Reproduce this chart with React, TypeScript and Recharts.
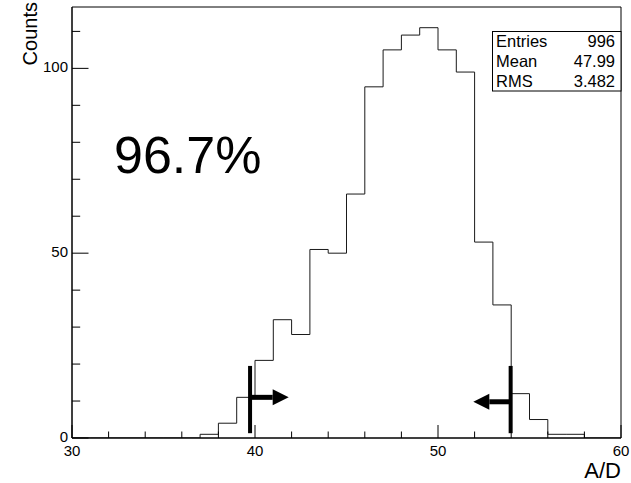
import React from 'react';
import {
  ComposedChart,
  Line,
  XAxis,
  YAxis,
  ReferenceLine,
  ReferenceArea,
} from 'recharts';

// histogram bins (low edge) and counts
const binLowEdges = [30, 31, 32, 33, 34, 35, 36, 37, 38, 39, 40, 41, 42, 43, 44, 45, 46, 47, 48, 49, 50, 51, 52, 53, 54, 55, 56, 57, 58, 59];
const binCounts = [0, 0, 0, 0, 0, 0, 0, 1, 4, 11, 21, 32, 28, 51, 50, 66, 95, 105, 109, 111, 105, 99, 53, 36, 12, 5, 1, 1, 0, 0];
const xMin = 30;
const xMax = 60;
const yMax = 116.6;

const xTicks = [30, 32, 34, 36, 38, 40, 42, 44, 46, 48, 50, 52, 54, 56, 58, 60];
const xMajor = [30, 40, 50, 60];
const yTicks = [0, 10, 20, 30, 40, 50, 60, 70, 80, 90, 100, 110];
const yMajor = [0, 50, 100];

// cut markers: position, bar extent, arrow height and tip
const cutPositions = [39.73, 53.97];
const cutBarTop = 19.5;
const cutBarBottom = 1.3;
const arrowHeights = [11.0, 9.8];
const arrowTips = [41.84, 51.93];

const statLabels = ['Entries', 'Mean', 'RMS'];
const statValues = ['996', '47.99', '3.482'];
const efficiencyText = '96.7%';

const FONT = '"Liberation Sans", Arial, Helvetica, sans-serif';

const histData = [
  ...binLowEdges.map((x, i) => ({ x, count: binCounts[i] })),
  { x: xMax, count: 0 },
];

const XTick = (props: any) => {
  const { x, y, payload } = props;
  const major = xMajor.includes(payload.value);
  return (
    <g>
      <line x1={x} y1={y} x2={x} y2={y - (major ? 13 : 6.5)} stroke="#000" strokeWidth={1} />
      {major && (
        <text x={x} y={y + 18} textAnchor="middle" fontSize={15} fontFamily={FONT} fill="#000">
          {payload.value}
        </text>
      )}
    </g>
  );
};

const YTick = (props: any) => {
  const { x, y, payload } = props;
  const major = yMajor.includes(payload.value);
  return (
    <g>
      <line x1={x} y1={y} x2={x + (major ? 16.5 : 8.2)} y2={y} stroke="#000" strokeWidth={1} />
      {major && (
        <text x={x - 4} y={y + 4} textAnchor="end" fontSize={15} fontFamily={FONT} fill="#000">
          {payload.value}
        </text>
      )}
    </g>
  );
};

const Arrow = (props: any) => {
  const { x1, y1, x2 } = props;
  const dir = x2 > x1 ? 1 : -1;
  const head = 16;
  return (
    <g>
      <line x1={x1} y1={y1} x2={x2 - dir * head} y2={y1} stroke="#000" strokeWidth={5} />
      <polygon
        points={`${x2},${y1} ${x2 - dir * head},${y1 - 8} ${x2 - dir * head},${y1 + 8}`}
        fill="#000"
      />
    </g>
  );
};

export default function App() {
  return (
    <div style={{ position: 'absolute', left: 0, top: 0, width: 631, height: 483, background: '#fff' }}>
      <ComposedChart
        width={631}
        height={483}
        data={histData}
        margin={{ top: 7, right: 10, bottom: 0, left: 0 }}
      >
        <XAxis
          type="number"
          dataKey="x"
          domain={[xMin, xMax]}
          ticks={xTicks}
          interval={0}
          height={45}
          tickSize={0}
          tickMargin={0}
          tickLine={false}
          tick={<XTick />}
          axisLine={{ stroke: '#000' }}
          allowDataOverflow
        />
        <YAxis
          type="number"
          domain={[0, yMax]}
          ticks={yTicks}
          interval={0}
          width={72}
          tickSize={0}
          tickMargin={0}
          tickLine={false}
          tick={<YTick />}
          axisLine={{ stroke: '#000' }}
          allowDataOverflow
        />
        <ReferenceArea x1={xMin} x2={xMax} y1={0} y2={yMax} fill="none" stroke="#000" strokeWidth={1} />
        <Line
          type="stepAfter"
          dataKey="count"
          stroke="#1a1a1a"
          strokeWidth={1}
          dot={false}
          isAnimationActive={false}
        />
        {cutPositions.map((c, i) => (
          <ReferenceLine
            key={`bar-${i}`}
            segment={[{ x: c, y: cutBarTop }, { x: c, y: cutBarBottom }]}
            stroke="#000"
            strokeWidth={4}
          />
        ))}
        {cutPositions.map((c, i) => (
          <ReferenceLine
            key={`arrow-${i}`}
            segment={[{ x: c, y: arrowHeights[i] }, { x: arrowTips[i], y: arrowHeights[i] }]}
            shape={<Arrow />}
          />
        ))}
      </ComposedChart>
      <svg
        width={631}
        height={483}
        style={{ position: 'absolute', left: 0, top: 0, pointerEvents: 'none' }}
      >
        <text
          x={37}
          y={2}
          transform="rotate(-90, 37, 2)"
          textAnchor="end"
          fontSize={20}
          fontFamily={FONT}
          fill="#000"
        >
          Counts
        </text>
        <text x={621} y={478} textAnchor="end" fontSize={22} fontFamily={FONT} fill="#000">
          A/D
        </text>
        <text x={114} y={173} fontSize={52} fontFamily={FONT} fill="#000">
          {efficiencyText}
        </text>
        <rect x={492.5} y={31.5} width={128.5} height={59.5} fill="#fff" stroke="#000" strokeWidth={1} />
        {statLabels.map((s, i) => (
          <g key={s}>
            <text x={496} y={47 + i * 20} fontSize={16.5} fontFamily={FONT} fill="#000">
              {s}
            </text>
            <text x={615} y={47 + i * 20} textAnchor="end" fontSize={16.5} fontFamily={FONT} fill="#000">
              {statValues[i]}
            </text>
          </g>
        ))}
      </svg>
    </div>
  );
}
